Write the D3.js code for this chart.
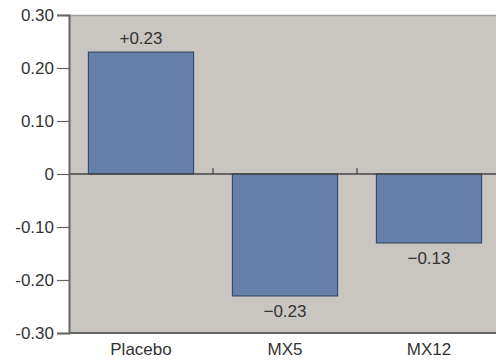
<!DOCTYPE html>
<html><head><meta charset="utf-8">
<script src="https://cdn.jsdelivr.net/npm/d3@7"></script>
<style>body{margin:0;background:#fff}svg{display:block;font-family:"Liberation Sans",Arial,sans-serif}</style>
</head><body><svg id="c" width="496" height="360"></svg>
<script>
const categories = ["Placebo", "MX5", "MX12"];
const values = [0.23, -0.23, -0.13];
const valueLabels = ["+0.23", "\u22120.23", "\u22120.13"];
const yTicks = [0.30, 0.20, 0.10, 0, -0.10, -0.20, -0.30];
const yTickLabels = ["0.30", "0.20", "0.10", "0", "-0.10", "-0.20", "-0.30"];

(function () {
const svg = d3.select("#c");
const mL = 69, mR = 501, mT = 15, mB = 333;
const fs = 17;
const x = d3.scaleBand().domain(categories).range([mL, mR]).paddingInner(0.27).paddingOuter(0.135);
const y = d3.scaleLinear().domain([-0.3, 0.3]).range([mB, mT]);

svg.append("rect").attr("x", mL).attr("y", mT).attr("width", mR - mL).attr("height", mB - mT).attr("fill", "#c9c5c1");
svg.append("line").attr("x1", mL).attr("x2", mR).attr("y1", mT + 0.5).attr("y2", mT + 0.5).attr("stroke", "#a09d9a").attr("stroke-width", 1.5);

svg.selectAll("rect.bar").data(values).join("rect").attr("class", "bar")
  .attr("x", (d, i) => x(categories[i]))
  .attr("width", x.bandwidth())
  .attr("y", d => y(Math.max(0, d)))
  .attr("height", d => Math.abs(y(d) - y(0)))
  .attr("fill", "#6580ab").attr("stroke", "#3b4a66").attr("stroke-width", 1.2);

svg.append("line").attr("x1", mL).attr("x2", mR).attr("y1", y(0)).attr("y2", y(0)).attr("stroke", "#444").attr("stroke-width", 1.5);
const step = x.step();
svg.selectAll("line.sep").data(categories.slice(1)).join("line").attr("class", "sep")
  .attr("x1", d => x(d) - x.paddingInner() * step / 2).attr("x2", d => x(d) - x.paddingInner() * step / 2)
  .attr("y1", y(0)).attr("y2", y(0) - 6).attr("stroke", "#444").attr("stroke-width", 1.2);

const yAxis = d3.axisLeft(y).tickValues(yTicks).tickFormat((d, i) => yTickLabels[i]).tickSize(12).tickPadding(3);
const ga = svg.append("g").attr("transform", `translate(${mL},0)`).call(yAxis);
ga.select(".domain").attr("stroke", "#666").attr("stroke-width", 2);
ga.selectAll(".tick line").attr("stroke", "#666").attr("stroke-width", 1.2);
ga.selectAll(".tick text").attr("fill", "#333").attr("font-size", fs).attr("font-family", "Liberation Sans, Arial, sans-serif");

svg.append("line").attr("x1", mL).attr("x2", mR).attr("y1", mB).attr("y2", mB).attr("stroke", "#666").attr("stroke-width", 2);

svg.selectAll("text.xl").data(categories).join("text").attr("class", "xl")
  .attr("x", d => x(d) + x.bandwidth() / 2).attr("y", 355)
  .attr("text-anchor", "middle").attr("font-size", fs).attr("fill", "#333").text(d => d);

svg.selectAll("text.vl").data(values).join("text").attr("class", "vl")
  .attr("x", (d, i) => x(categories[i]) + x.bandwidth() / 2)
  .attr("y", d => d >= 0 ? y(d) - 8 : y(d) + 21)
  .attr("text-anchor", "middle").attr("font-size", fs).attr("fill", "#333")
  .text((d, i) => valueLabels[i]);
})();
</script></body></html>
